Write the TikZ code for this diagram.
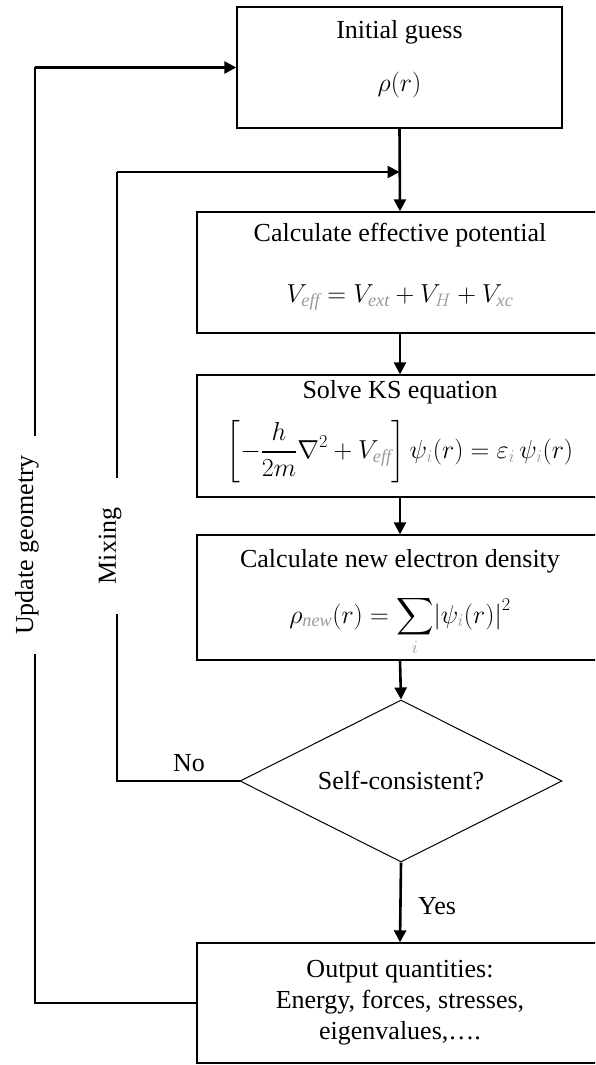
\documentclass[tikz,border=0pt]{standalone}
\usepackage{fix-cm}
\usepackage{fontspec}
\setmainfont{Liberation Serif}
\DeclareFontShape{OMX}{cmex}{m}{n}{<-> cmex10}{}
\usetikzlibrary{arrows.meta,shapes.geometric}
\tikzset{
  box/.style={draw, line width=1.4pt, inner sep=0pt, minimum width=406pt},
  lbl/.style={font=\fontsize{26}{32}\selectfont, inner sep=0pt},
  flow/.style={line width=2.6pt, -{Triangle[width=12pt,length=12pt]}},
  feed/.style={line width=1.5pt},
  gapl/.style={lbl, rotate=90, fill=white, inner ysep=4pt},
}
\newcommand{\gs}[1]{{\color{black!40}#1}}
\begin{document}
\begin{tikzpicture}[x=1pt,y=-1pt]
\useasboundingbox (0,0) rectangle (595,1065);
\clip (0,0) rectangle (595,1065);
% boxes
\node[box, minimum width=325pt, minimum height=121pt] (init) at (399.5,67.5) {};
\node[lbl] (initt) at (399.5,32) {Initial guess};
\node[lbl] (initf) at (399.5,85) {$\rho(r)$};

\node[box, minimum height=121pt] (calc) at (400,272.5) {};
\node[lbl] (calct) at (400,235) {Calculate effective potential};
\node[lbl] (calcf) at (400,298) {$V_{\gs{\mathit{eff}}} = V_{\gs{\mathit{ext}}} + V_{\gs{H}} + V_{\gs{\mathit{xc}}}$};

\node[box, minimum height=122pt] (solve) at (400,436) {};
\node[lbl] (solvet) at (400,392) {Solve KS equation};
\node[lbl] (solvef) at (400,452) {$\displaystyle\left[-\frac{h}{2m}\nabla^2+V_{\gs{\mathit{eff}}}\right]\psi_{\gs{i}}(r)=\varepsilon_{\gs{i}}\,\psi_{\gs{i}}(r)$};

\node[box, minimum height=125pt] (dens) at (400,597.5) {};
\node[lbl] (denst) at (400,561) {Calculate new electron density};
\node[lbl] (densf) at (400,626) {$\displaystyle\rho_{\gs{\mathit{new}}}(r)=\sum_{\gs{i}}\bigl|\psi_{\gs{i}}(r)\bigr|^2$};

\node[diamond, draw, line width=1pt, aspect=2, inner sep=0pt, minimum width=322pt, minimum height=162pt, font=\fontsize{26}{32}\selectfont] (dia) at (401,781) {Self-consistent?};

\node[box, minimum height=120pt, align=center, font=\fontsize{26}{31}\selectfont] (out) at (400,1003) {Output quantities:\\Energy, forces, stresses,\\eigenvalues,\dots.};

% coordinates
\coordinate (mixin) at (init.south |- 0,172);
\coordinate (mixtop) at (117,172);
\coordinate (mixbot) at (117,781);
\coordinate (ugtop) at (35,67.5);
\coordinate (ugbot) at (35,1003);

% main flow
\draw[flow] (init.south) -- (calc.north);
\draw[flow] (calc.south) -- (solve.north);
\draw[flow] (solve.south) -- (dens.north);
\draw[flow] (dens.south) -- (dia.north);
\draw[flow] (dia.south) -- (out.north);

% mixing loop
\draw[feed] (dia.west) -- (mixbot) -- (mixtop);
\draw[flow] (mixtop) -- (mixin);

% update geometry loop
\draw[feed] (out.west) -- (ugbot) -- (ugtop);
\draw[flow] (ugtop) -- (init.west);

% labels
\node[gapl, inner xsep=30pt] (mixl) at (110,546) {Mixing};
\node[gapl, inner xsep=19pt] (ugl) at (27,545) {Update geometry};
\node[lbl] (nol) at (189,763) {No};
\node[lbl] (yesl) at (437,906) {Yes};
\end{tikzpicture}
\end{document}
